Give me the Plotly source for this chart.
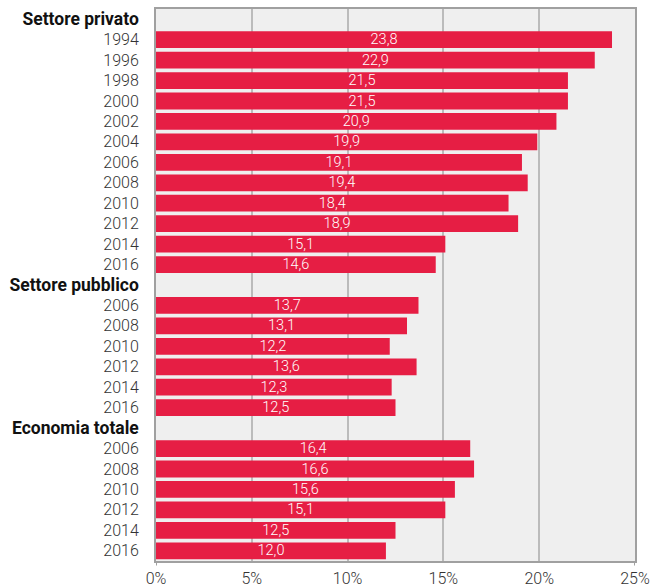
import plotly.graph_objects as go

groups = ["Settore privato", "Settore pubblico", "Economia totale"]
years_privato = ["1994", "1996", "1998", "2000", "2002", "2004", "2006", "2008", "2010", "2012", "2014", "2016"]
values_privato = [23.8, 22.9, 21.5, 21.5, 20.9, 19.9, 19.1, 19.4, 18.4, 18.9, 15.1, 14.6]
years_pubblico = ["2006", "2008", "2010", "2012", "2014", "2016"]
values_pubblico = [13.7, 13.1, 12.2, 13.6, 12.3, 12.5]
years_totale = ["2006", "2008", "2010", "2012", "2014", "2016"]
values_totale = [16.4, 16.6, 15.6, 15.1, 12.5, 12.0]
x_ticks = [0, 5, 10, 15, 20, 25]

BAR = "#E61E44"
ys, xs, labels, tickvals, ticktext = [], [], [], [], []
pos = 0
for g, yrs, vals in zip(groups, [years_privato, years_pubblico, years_totale],
                        [values_privato, values_pubblico, values_totale]):
    tickvals.append(pos)
    ticktext.append(f"<b><span style='color:#111111;font-size:17.5px'>{g}</span></b>")
    pos += 1
    for yr, v in zip(yrs, vals):
        ys.append(pos)
        xs.append(v)
        labels.append(f"{v:.1f}".replace(".", ","))
        tickvals.append(pos)
        ticktext.append(yr)
        pos += 1

fig = go.Figure(go.Bar(
    x=xs, y=ys, orientation="h", marker=dict(color=BAR, line=dict(width=0)),
    width=0.82, text=labels, textposition="inside", insidetextanchor="middle",
    constraintext="none", textangle=0,
    textfont=dict(color="white", size=14.5, family="Roboto", weight=300),
    hoverinfo="skip",
))

fig.update_layout(
    width=650, height=588,
    margin=dict(l=156, r=15, t=9, b=27),
    paper_bgcolor="white", plot_bgcolor="#EFEFEF",
    showlegend=False,
    font=dict(family="Roboto", size=16, color="#333333", weight=300),
)
fig.update_xaxes(
    range=[0, 25], tickvals=x_ticks, ticktext=[f"{v}%" for v in x_ticks],
    showgrid=True, gridcolor="#BBBBBB", gridwidth=1.5,
    showline=True, linecolor="#A0A0A0", linewidth=2, mirror=True,
    zeroline=False, ticks="", ticklabelstandoff=2, fixedrange=True,
    automargin=False,
)
fig.update_yaxes(
    range=[pos - 0.5, -0.5], tickvals=tickvals, ticktext=ticktext,
    showgrid=False, showline=True, linecolor="#A0A0A0", linewidth=2, mirror=True,
    zeroline=False, ticks="", ticklabelstandoff=12, fixedrange=True,
    automargin=False,
)
for xv in [x_ticks[0], x_ticks[-1]]:
    fig.add_shape(type="line", xref="x", yref="paper", x0=xv, x1=xv, y0=-0.008, y1=0,
                  line=dict(color="#A0A0A0", width=2))

fig.write_html("out.html")
